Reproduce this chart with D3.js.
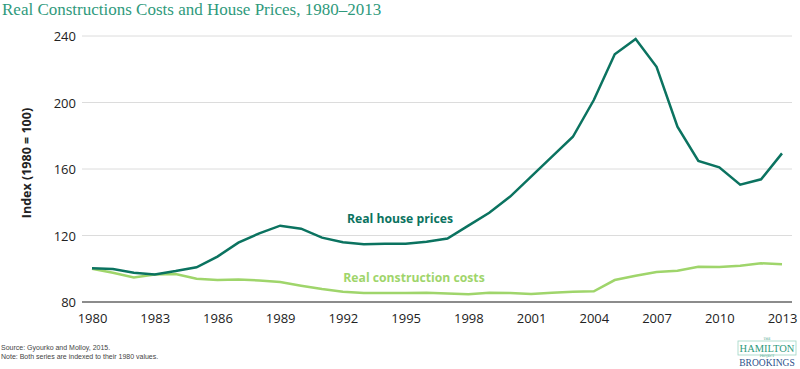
<!DOCTYPE html>
<html>
<head>
<meta charset="utf-8">
<title>Real Construction Costs and House Prices</title>
<style>
  body { margin: 0; background: #fff; }
  svg { display: block; }
</style>
</head>
<body>
<script src="https://cdn.jsdelivr.net/npm/d3@7/dist/d3.min.js"></script>
<script>
// data
var years = d3.range(1980, 2014);
var housePrices = [100.3, 99.8, 97.6, 96.6, 98.6, 100.9, 107.3, 115.7, 121.3, 125.9,
  124.1, 118.7, 115.9, 114.7, 115.1, 115.1, 116.3, 118.2, 125.9, 133.7,
  143.4, 155.4, 167.4, 179.4, 201.5, 229.0, 238.2, 221.5, 185.4, 164.8,
  161.0, 150.6, 153.8, 169.4];
var constructionCosts = [100.0, 97.6, 94.8, 96.6, 96.8, 94.0, 93.2, 93.6, 93.0, 92.0,
  89.8, 87.8, 86.2, 85.4, 85.4, 85.4, 85.6, 85.1, 84.6, 85.6,
  85.4, 84.8, 85.6, 86.2, 86.4, 93.2, 95.8, 98.0, 98.8, 101.2,
  101.0, 101.8, 103.3, 102.7];
var yTicks = [80, 120, 160, 200, 240];
var xTicks = d3.range(1980, 2014, 3);

var width = 800, height = 369;
var svg = d3.select("body").append("svg")
    .attr("width", width)
    .attr("height", height);

var x = d3.scaleLinear().domain([1980, 2013]).range([92, 782]);
var y = d3.scaleLinear().domain([80, 240]).range([302, 36]);

// title
svg.append("text")
    .attr("x", 2).attr("y", 15)
    .style("font-family", "'Liberation Serif', serif")
    .style("font-size", "17px")
    .style("fill", "#2f9a7c")
    .text("Real Constructions Costs and House Prices, 1980\u20132013");

// gridlines
svg.append("g").selectAll("line")
    .data(yTicks.filter(function(d) { return d > 80; }))
    .enter().append("line")
    .attr("x1", 82).attr("x2", 792)
    .attr("y1", function(d) { return y(d); })
    .attr("y2", function(d) { return y(d); })
    .style("stroke", "#dcdcdc")
    .style("stroke-width", 1);

// baseline
svg.append("line")
    .attr("x1", 82).attr("x2", 792)
    .attr("y1", y(80)).attr("y2", y(80))
    .style("stroke", "#666")
    .style("stroke-width", 1.5);

// y axis labels
var yAxis = d3.axisLeft(y).tickValues(yTicks).tickSize(0).tickPadding(0);
var gy = svg.append("g").attr("transform", "translate(76,0)").call(yAxis);
gy.select(".domain").remove();
gy.selectAll("text")
    .attr("dy", "0.35em")
    .style("font-family", "'Open Sans', sans-serif")
    .style("font-size", "13px")
    .style("fill", "#222");

// x axis labels
var xAxis = d3.axisBottom(x).tickValues(xTicks).tickFormat(d3.format("d")).tickSize(0).tickPadding(0);
var gx = svg.append("g").attr("transform", "translate(0,314)").call(xAxis);
gx.select(".domain").remove();
gx.selectAll("text")
    .attr("dy", "0.71em")
    .style("font-family", "'Open Sans', sans-serif")
    .style("font-size", "13px")
    .style("fill", "#222");

// y axis title
svg.append("text")
    .attr("transform", "translate(31,163) rotate(-90)")
    .attr("text-anchor", "middle")
    .style("font-family", "'Open Sans', sans-serif")
    .style("font-weight", "bold")
    .style("font-size", "12.5px")
    .style("fill", "#222")
    .text("Index (1980 = 100)");

var line = d3.line()
    .x(function(d, i) { return x(years[i]); })
    .y(function(d) { return y(d); });

svg.append("path")
    .datum(constructionCosts)
    .attr("d", line)
    .style("fill", "none")
    .style("stroke", "#9fd56b")
    .style("stroke-width", 2.5);

svg.append("path")
    .datum(housePrices)
    .attr("d", line)
    .style("fill", "none")
    .style("stroke", "#0b7360")
    .style("stroke-width", 2.5);

// series labels
svg.append("text")
    .attr("x", 400).attr("y", 223)
    .attr("text-anchor", "middle")
    .style("font-family", "'Open Sans', sans-serif")
    .style("font-weight", "bold")
    .style("font-size", "12.2px")
    .style("fill", "#0b7360")
    .text("Real house prices");

svg.append("text")
    .attr("x", 414).attr("y", 282)
    .attr("text-anchor", "middle")
    .style("font-family", "'Open Sans', sans-serif")
    .style("font-weight", "bold")
    .style("font-size", "12.2px")
    .style("fill", "#9fd56b")
    .text("Real construction costs");

// footer notes
var notes = ["Source: Gyourko and Molloy, 2015.", "Note: Both series are indexed to their 1980 values."];
svg.append("g").selectAll("text")
    .data(notes)
    .enter().append("text")
    .attr("x", 1)
    .attr("y", function(d, i) { return 350 + i * 9; })
    .style("font-family", "'Liberation Sans', Arial, sans-serif")
    .style("font-size", "7px")
    .style("fill", "#444")
    .text(function(d) { return d; });

// logo
var logo = svg.append("g").attr("transform", "translate(767,0)");
logo.append("rect")
    .attr("x", -29).attr("y", 341).attr("width", 58).attr("height", 14)
    .style("fill", "none")
    .style("stroke", "#9fd5c4")
    .style("stroke-width", 0.8);
logo.append("text")
    .attr("y", 340).attr("text-anchor", "middle")
    .style("font-family", "'DejaVu Serif', serif")
    .style("font-size", "3px").style("fill", "#2f9a7c")
    .text("THE");
logo.append("text")
    .attr("y", 352).attr("text-anchor", "middle")
    .style("font-family", "'Liberation Serif', serif")
    .style("font-size", "10.5px").style("fill", "#2f9a7c")
    .text("HAMILTON");
logo.append("text")
    .attr("y", 357).attr("text-anchor", "middle")
    .style("font-family", "'DejaVu Serif', serif")
    .style("font-size", "3px").style("fill", "#2f9a7c")
    .text("PROJECT");
logo.append("text")
    .attr("y", 366).attr("text-anchor", "middle")
    .style("font-family", "'Liberation Serif', serif")
    .style("font-size", "9.5px").style("fill", "#2b4f8a")
    .text("BROOKINGS");
</script>
</body>
</html>
